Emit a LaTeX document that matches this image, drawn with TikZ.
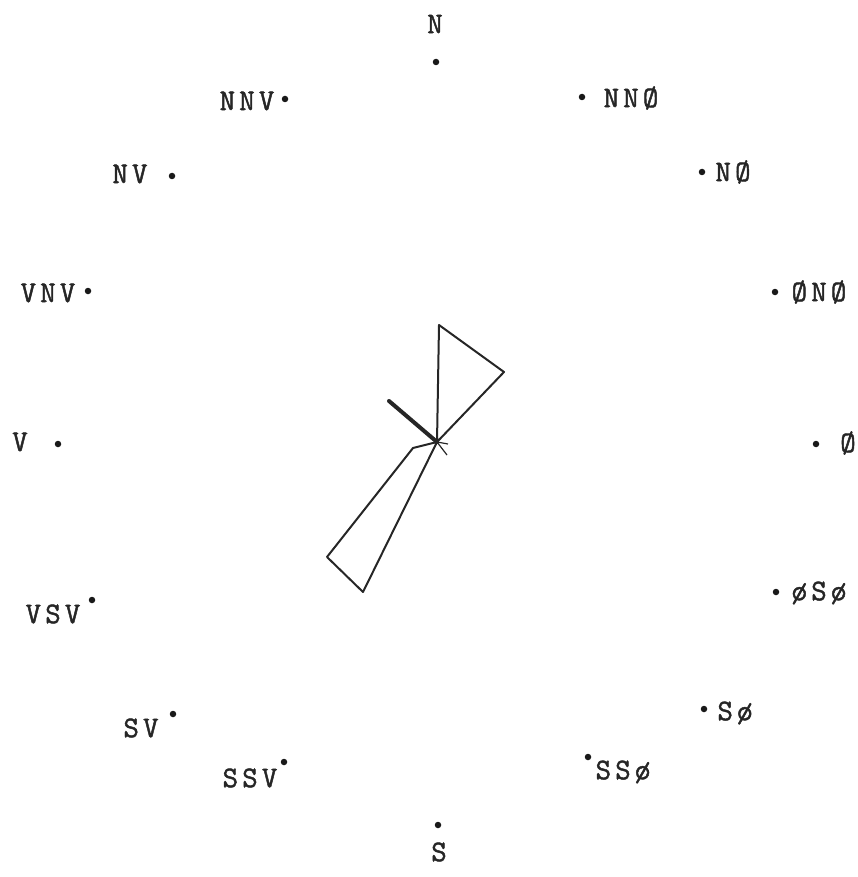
\documentclass[tikz,border=0pt]{standalone}
\usepackage{fontspec}
\newfontfamily\tw[LetterSpace=14,FakeBold=1.5]{Latin Modern Mono}
\begin{document}
\begin{tikzpicture}[x=1pt,y=-1pt,
  lab/.style={font=\tw\fontsize{30}{30}\selectfont, inner sep=0pt, text=black!85},
  pt/.style={circle, fill=black!90, inner sep=0pt, minimum size=6.5pt},
  wedge/.style={draw=black!85, line width=2pt, line join=round},
  calm/.style={draw=black!85, line width=4pt, line cap=round}]
\useasboundingbox (0,0) rectangle (858,877);
% labels
\node[lab] (lN) at (435,24) {N};
\node[lab] (lNNO) at (631,98) {NNØ};
\node[lab] (lNO) at (733,172) {NØ};
\node[lab] (lONO) at (819,292) {ØNØ};
\node[lab] (lO) at (848,443) {Ø};
\node[lab] (lOSO) at (819,593) {øSø};
\node[lab] (lSO) at (735,713) {Sø};
\node[lab] (lSSO) at (623,772) {SSø};
\node[lab] (lS) at (439,852) {S};
\node[lab] (lSSV) at (250,778) {SSV};
\node[lab] (lSV) at (141,728) {SV};
\node[lab] (lVSV) at (53,614) {VSV};
\node[lab] (lV) at (20,442) {V};
\node[lab] (lVNV) at (48,293) {VNV};
\node[lab] (lNV) at (130,174) {NV};
\node[lab] (lNNV) at (247,101) {NNV};
% dots
\node[pt] (dN) at (436,62) {};
\node[pt] (dNNO) at (582,97) {};
\node[pt] (dNO) at (702,172) {};
\node[pt] (dONO) at (775,292) {};
\node[pt] (dO) at (816,444) {};
\node[pt] (dOSO) at (776,592) {};
\node[pt] (dSO) at (704,709) {};
\node[pt] (dSSO) at (588,757) {};
\node[pt] (dS) at (438,825) {};
\node[pt] (dSSV) at (284,762) {};
\node[pt] (dSV) at (173,714) {};
\node[pt] (dVSV) at (92,600) {};
\node[pt] (dV) at (58,444) {};
\node[pt] (dVNV) at (88,291) {};
\node[pt] (dNV) at (172,176) {};
\node[pt] (dNNV) at (285,99) {};
% rose
\coordinate (c) at (437,442);
\coordinate (n1) at (439,325);
\coordinate (n2) at (504,372);
\coordinate (s0) at (413,448);
\coordinate (s1) at (327,557);
\coordinate (s2) at (363,592);
\coordinate (nw) at (389,401);
\coordinate (se) at (447,455);
\coordinate (e) at (448,444);
\draw[wedge] (c) -- (n1) -- (n2) -- cycle;
\draw[wedge] (c) -- (s0) -- (s1) -- (s2) -- cycle;
\draw[calm] (c) -- (nw);
\draw[wedge, line width=1.2pt] (c) -- (se);
\draw[wedge, line width=1.2pt] (c) -- (e);
\end{tikzpicture}
\end{document}
